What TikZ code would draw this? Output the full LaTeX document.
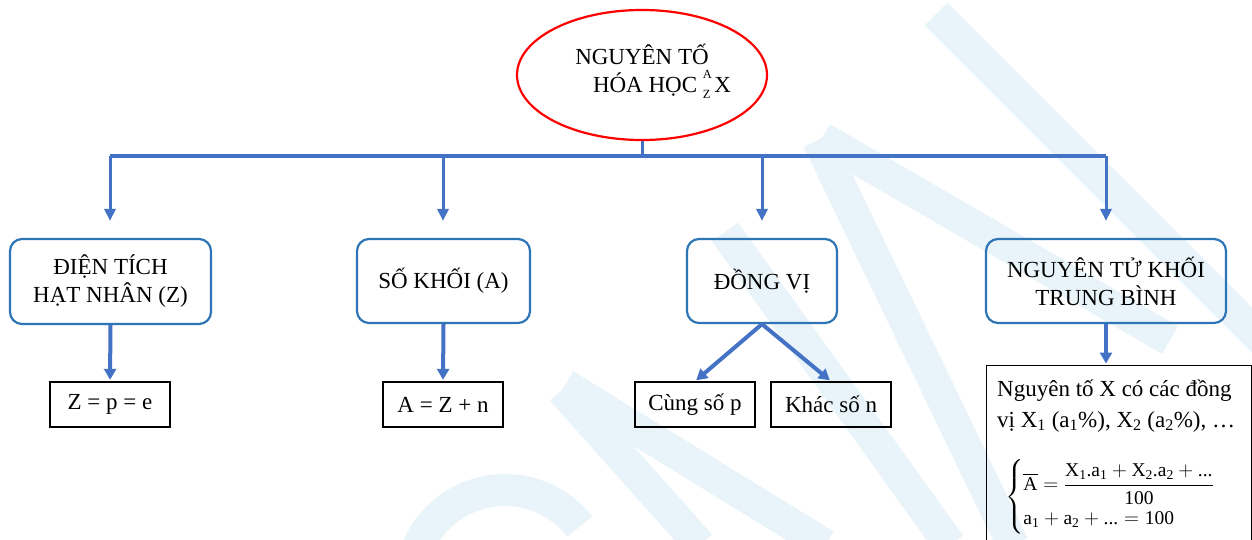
\documentclass[tikz,border=0pt]{standalone}
\usepackage{fontspec}
\setmainfont{Liberation Serif}
\usepackage{amsmath}
\usetikzlibrary{shapes.geometric,arrows.meta}
\definecolor{arrblue}{HTML}{4472C4}
\definecolor{boxblue}{HTML}{2E75B6}
\definecolor{wmblue}{HTML}{E8F4FA}
\begin{document}
\begin{tikzpicture}[x=1pt,y=-1pt,
  wm/.style={draw=wmblue,line width=32pt},
  txt/.style={font=\fontsize{23}{28}\selectfont},
  mainbox/.style={txt,draw=boxblue,line width=2.2pt,rounded corners=12pt,align=center,inner sep=0pt},
  leafbox/.style={txt,draw=black,line width=1.4pt,inner sep=0pt,minimum width=120pt,minimum height=45pt},
  drop/.style={draw=arrblue,line width=3pt,-{Triangle[length=12pt,width=11pt]}},
  down/.style={draw=arrblue,line width=4pt,-{Triangle[length=11pt,width=12pt]}},
  barline/.style={draw=arrblue,line width=4pt}
]
\path[fill=white,use as bounding box] (0,0) rectangle (1252,540);
% watermark
\draw[wm] (936,14) -- (1290,368);
\draw[wm] (822,138) -- (1170,340);
\draw[wm] (818,140) -- (1013,545);
\draw[wm] (725,232) -- (950,545);
\draw[wm] (565,385) -- (825,545);
\draw[wm] (562,390) -- (700,545);
\draw[wm] plot[domain=-38:-160,samples=30,smooth] ({505+95*cos(\x)},{585+95*sin(\x)});
% root
\node[ellipse,draw=red,line width=2.2pt,minimum width=250pt,minimum height=130pt,inner sep=0pt] (root) at (642,75) {};
\node[txt,align=center,inner sep=0pt] (rootlabel) at (642,71) {NGUYÊN TỐ\\\hspace*{40pt}HÓA HỌC {\fontsize{12.5}{12.5}\selectfont\rlap{\raisebox{14pt}{A}}\raisebox{-6pt}{Z}}\,X};
% bar
\coordinate (j0) at (642,156);
\coordinate (j1) at (110,156);
\coordinate (j2) at (443,156);
\coordinate (j3) at (762,156);
\coordinate (j4) at (1106,156);
\draw[draw=arrblue,line width=3pt] (root.south) -- (j0);
\draw[barline] (j1) -- (j4);
% main boxes
\node[mainbox,minimum width=201pt,minimum height=85pt] (b1) at (110.5,281.5) {ĐIỆN TÍCH\\HẠT NHÂN (Z)};
\node[mainbox,minimum width=173pt,minimum height=84pt] (b2) at (443.5,281) {SỐ KHỐI (A)};
\node[mainbox,minimum width=150pt,minimum height=84pt] (b3) at (762,281) {ĐỒNG VỊ};
\node[mainbox,minimum width=240pt,minimum height=84pt] (b4) at (1106,281) {NGUYÊN TỬ KHỐI\\TRUNG BÌNH};
\draw[drop,shorten >=17pt] (j1) -- (j1 |- b1.north);
\draw[drop,shorten >=17pt] (j2) -- (j2 |- b2.north);
\draw[drop,shorten >=17pt] (j3) -- (j3 |- b3.north);
\draw[drop,shorten >=17pt] (j4) -- (j4 |- b4.north);
% leaves
\node[leafbox] (l1) at (110,404.5) {Z = p = e};
\node[leafbox] (l2) at (443,404.5) {A = Z + n};
\node[leafbox] (l3) at (695,404.5) {Cùng số p};
\node[leafbox] (l4) at (831,404.5) {Khác số n};
\node[draw=black,line width=1.4pt,anchor=north west,minimum width=265pt,minimum height=185pt,inner sep=0pt] (big) at (986,365) {};
\node[txt,anchor=base west,inner sep=0pt] (t1) at (997,396) {Nguyên tố X có các đồng};
\node[txt,anchor=base west,inner sep=0pt] (t2) at (997,427) {vị X\textsubscript{1} (a\textsubscript{1}\%), X\textsubscript{2} (a\textsubscript{2}\%), …};
\node[font=\fontsize{19.5}{22}\selectfont,inner sep=0pt] (formula) at (1110,497) {$\left\{\begin{array}{@{}l@{}}\overline{\text{A}}=\dfrac{\text{X}_{\text{1}}\text{.a}_{\text{1}}+\text{X}_{\text{2}}\text{.a}_{\text{2}}+\text{...}}{\rule{0pt}{15pt}\text{100}}\\[12pt]\text{a}_{\text{1}}+\text{a}_{\text{2}}+\text{...}=\text{100}\end{array}\right.$};
% down arrows
\draw[down,shorten >=1.5pt] (b1.south) -- (l1.north);
\draw[down,shorten >=1.5pt] (b2.south) -- (l2.north);
\draw[down,shorten >=1.5pt] (b3.south) -- (l3.north);
\draw[down,shorten >=1.5pt] (b3.south) -- (l4.north);
\draw[down,shorten >=1.5pt] (b4.south) -- (b4.south |- big.north);
\end{tikzpicture}
\end{document}
